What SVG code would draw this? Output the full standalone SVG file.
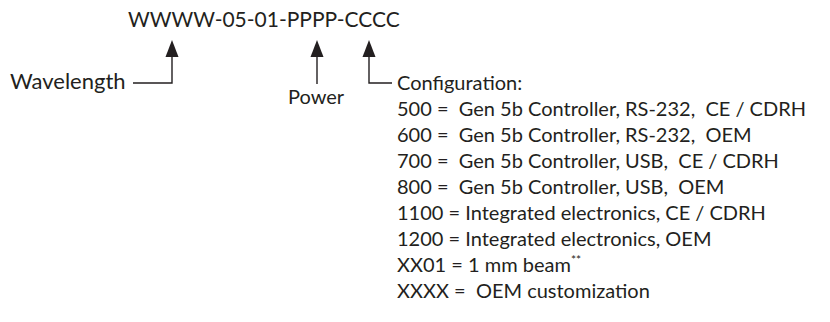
<svg xmlns="http://www.w3.org/2000/svg" width="830" height="322" viewBox="0 0 830 322" xml:space="preserve">
<style>
  text { font-family: "Lato", "Open Sans", sans-serif; fill: #231f20; white-space: pre; }
  .t { font-size: 21px; }
  .c { font-size: 20px; }
  .w { font-size: 22px; }
  .lead { fill: none; stroke: #231f20; stroke-width: 1.4; }
  .head { fill: #231f20; }
</style>
<rect width="830" height="322" fill="#ffffff"/>
<g id="code">
  <text class="t" x="128" y="27">WWWW-05-01-PPPP-CCCC</text>
</g>
<g id="connectors">
  <path class="lead" d="M133,83 H172 V56"/>
  <path class="head" d="M165.5,57 L172,40 L178.5,57 Z"/>
  <path class="lead" d="M317,84 V56"/>
  <path class="head" d="M310.5,57 L317,40 L323.5,57 Z"/>
  <path class="lead" d="M392,83 H369 V56"/>
  <path class="head" d="M362.5,57 L369,40 L375.5,57 Z"/>
</g>
<g id="wavelength">
  <text class="w" x="10" y="89">Wavelength</text>
</g>
<g id="power">
  <text class="c" x="288" y="104">Power</text>
</g>
<g id="configuration">
  <text class="c" x="397" y="90">Configuration:</text>
  <text class="c" x="397" y="116">500 =  Gen 5b Controller, RS-232,  CE / CDRH</text>
  <text class="c" x="397" y="142">600 =  Gen 5b Controller, RS-232,  OEM</text>
  <text class="c" x="397" y="168">700 =  Gen 5b Controller, USB,  CE / CDRH</text>
  <text class="c" x="397" y="194">800 =  Gen 5b Controller, USB,  OEM</text>
  <text class="c" x="397" y="220">1100 = Integrated electronics, CE / CDRH</text>
  <text class="c" x="397" y="246">1200 = Integrated electronics, OEM</text>
  <text class="c" x="397" y="272">XX01 = 1 mm beam<tspan font-size="12" dy="-8">**</tspan></text>
  <text class="c" x="397" y="298">XXXX =  OEM customization</text>
</g>
</svg>
